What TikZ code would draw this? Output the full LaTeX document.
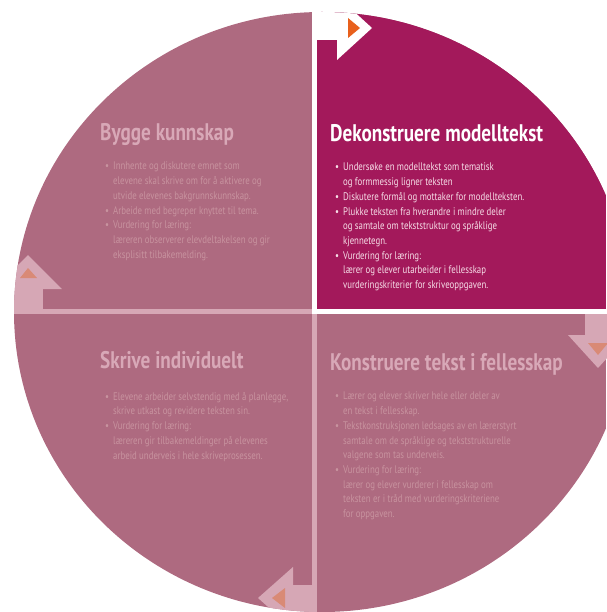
\documentclass[tikz,border=0pt]{standalone}
\usepackage{fontspec}
\setmainfont{PT Sans}[FakeStretch=0.8]
\usetikzlibrary{calc}

\definecolor{plum}{HTML}{A3195B}
\definecolor{plumfade}{HTML}{AE6A80}
\definecolor{pinkline}{HTML}{D6A7B5}
\definecolor{headfade}{HTML}{D8A8B7}
\definecolor{textfade}{HTML}{C8939F}
\definecolor{textdark}{HTML}{F6DDE7}
\definecolor{tipdark}{HTML}{E8601C}
\definecolor{tipfade}{HTML}{D98A76}

\newcommand{\bul}{\llap{\textbullet\hspace{4pt}}}

\tikzset{
  heading/.style={anchor=base west, inner sep=0pt, font=\fontsize{24}{28}\selectfont\bfseries},
  bodytext/.style={anchor=north west, inner sep=0pt, align=left, font=\fontsize{11}{14.7}\selectfont},
}

\begin{document}
\begin{tikzpicture}[x=1pt,y=-1pt]
  \useasboundingbox (0,0) rectangle (606,612);
  \begin{scope}
    \clip (322,312) ellipse (308 and 300);
    %DISC AND GAPS
    \fill[plumfade] (0,0) rectangle (606,612);
    \fill[pinkline] (312,0) rectangle (317,612);
    \fill[pinkline] (0,309) rectangle (606,314);
    %LEFT ARROW
    \fill[pinkline] (0,289) rectangle (43,309);
    \fill[pinkline] (-6,289) -- (62,289) -- (28,255) -- cycle;
    \fill[tipfade] (20,278) -- (37,278) -- (28,268) -- cycle;
    %RIGHT ARROW
    \fill[pinkline] (585,314) rectangle (620,335);
    \fill[pinkline] (568,335) -- (628,335) -- (598,368) -- cycle;
    \fill[tipfade] (588,343) -- (608,343) -- (598,355) -- cycle;
    %BOTTOM ARROW
    \fill[pinkline] (293,585) rectangle (312,620);
    \fill[pinkline] (293,567) -- (293,629) -- (258,598) -- cycle;
    \fill[tipfade] (285,588) -- (285,608) -- (272,598) -- cycle;
    %ACTIVE QUADRANT
    \fill[plum] (317,0) rectangle (606,309);
    \fill[white] (312,0) rectangle (317,314);
    \fill[white] (312,309) rectangle (606,314);
    \fill[white] (317,0) rectangle (337,40);
    \fill[white] (337,-4) -- (337,60) -- (372,28) -- cycle;
    \fill[tipdark] (348,18) -- (348,38) -- (360,28) -- cycle;
  \end{scope}

  %TEXTS
  \node[heading, headfade] (bygge) at (100,141) {Bygge kunnskap};
  \node[bodytext, textfade] (byggetxt) at (113,162) {%
    \bul Innhente og diskutere emnet som\\
    elevene skal skrive om for å aktivere og\\
    utvide elevenes bakgrunnskunnskap.\\
    \bul Arbeide med begreper knyttet til tema.\\
    \bul Vurdering for læring:\\
    læreren observerer elevdeltakelsen og gir\\
    eksplisitt tilbakemelding.};

  \node[heading, white] (dekon) at (330,142) {Dekonstruere modelltekst};
  \node[bodytext, textdark] (dekontxt) at (343,163) {%
    \bul Undersøke en modelltekst som tematisk\\
    og formmessig ligner teksten\\
    \bul Diskutere formål og mottaker for modellteksten.\\
    \bul Plukke teksten fra hverandre i mindre deler\\
    og samtale om tekststruktur og språklige\\
    kjennetegn.\\
    \bul Vurdering for læring:\\
    lærer og elever utarbeider i fellesskap\\
    vurderingskriterier for skriveoppgaven.};

  \node[heading, headfade] (skrive) at (100,368) {Skrive individuelt};
  \node[bodytext, textfade] (skrivetxt) at (113,392) {%
    \bul Elevene arbeider selvstendig med å planlegge,\\
    skrive utkast og revidere teksten sin.\\
    \bul Vurdering for læring:\\
    læreren gir tilbakemeldinger på elevenes\\
    arbeid underveis i hele skriveprosessen.};

  \node[heading, headfade] (konstr) at (330,370) {Konstruere tekst i fellesskap};
  \node[bodytext, textfade] (konstrtxt) at (343,392) {%
    \bul Lærer og elever skriver hele eller deler av\\
    en tekst i fellesskap.\\
    \bul Tekstkonstruksjonen ledsages av en lærerstyrt\\
    samtale om de språklige og tekststrukturelle\\
    valgene som tas underveis.\\
    \bul Vurdering for læring:\\
    lærer og elever vurderer i fellesskap om\\
    teksten er i tråd med vurderingskriteriene\\
    for oppgaven.};
\end{tikzpicture}
\end{document}
